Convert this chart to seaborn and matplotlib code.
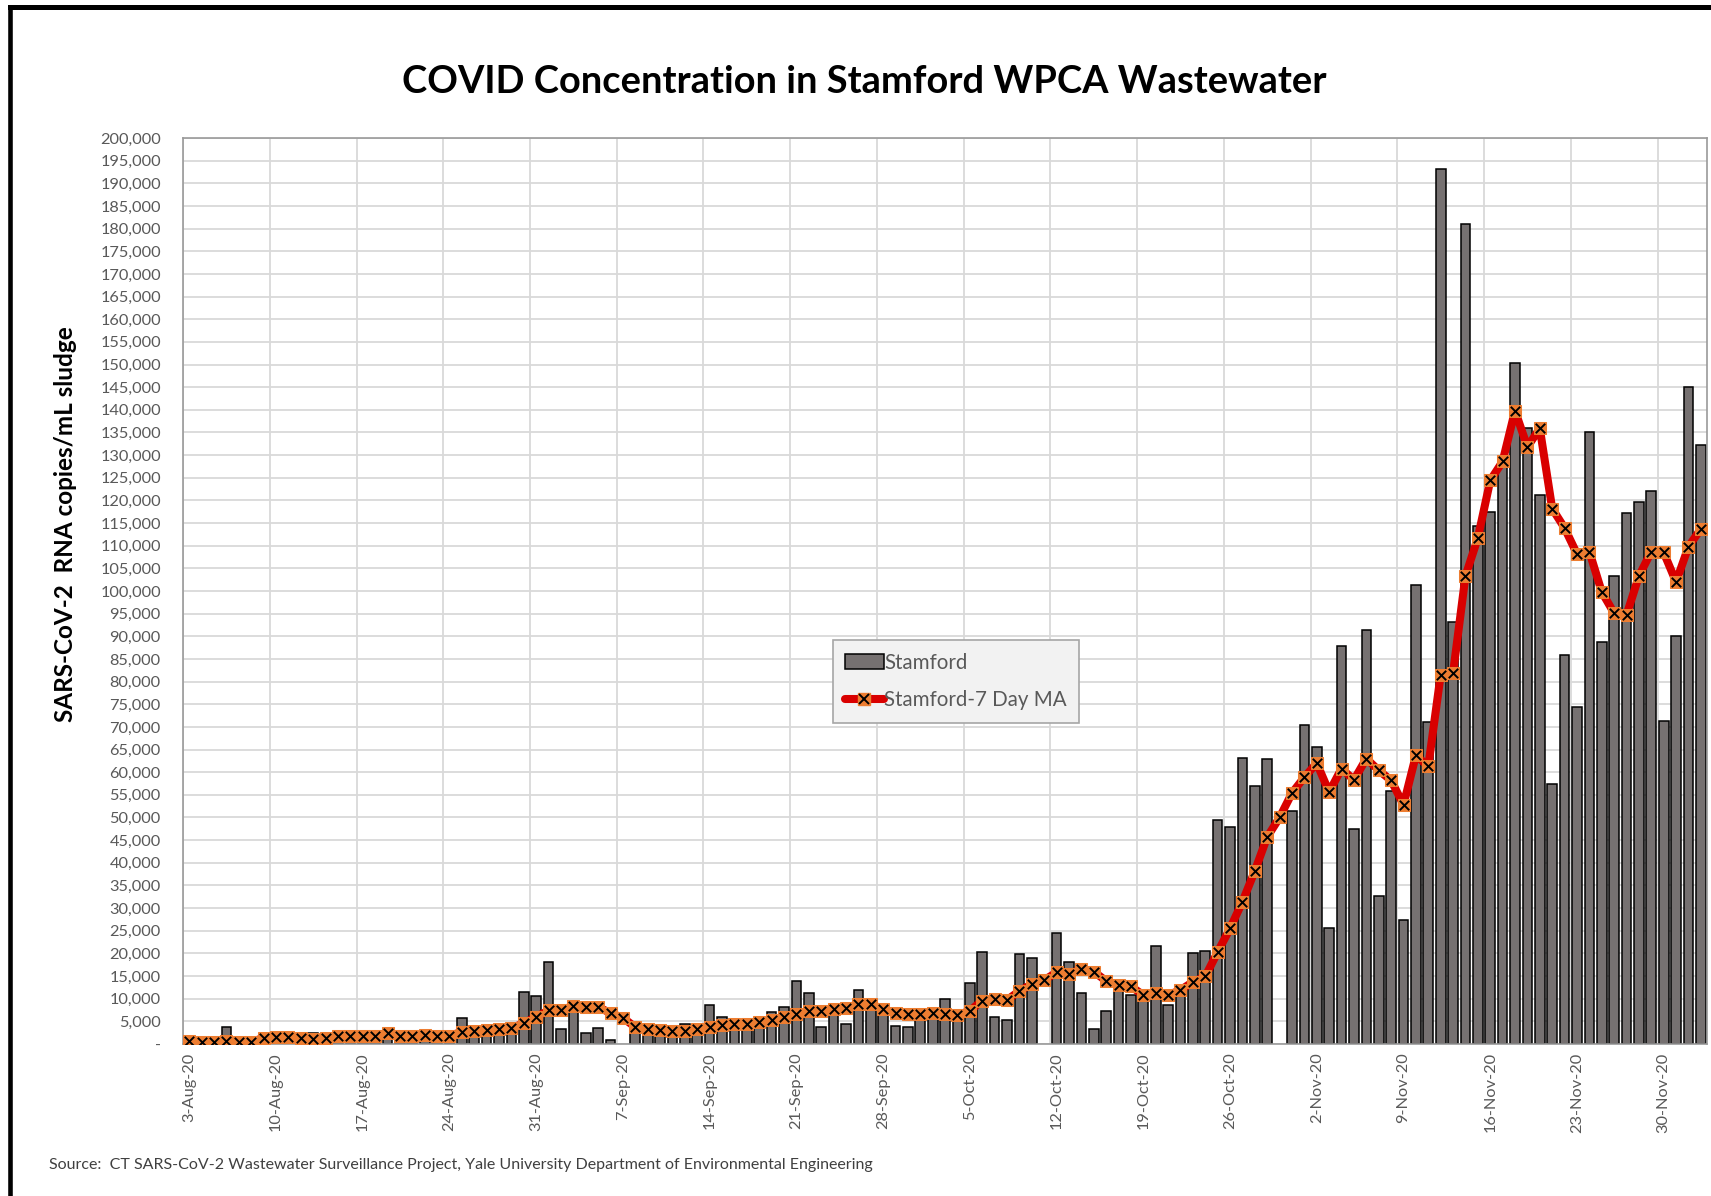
import numpy as np
import pandas as pd
import seaborn as sns
import matplotlib
matplotlib.use("Agg")
import matplotlib.pyplot as plt
from matplotlib.patches import Patch
from matplotlib.lines import Line2D
from matplotlib.ticker import FuncFormatter, MultipleLocator

# Daily values, 3-Aug-20 .. 3-Dec-20 (None = no sample that day)
stamford = [
    700, 600, 1600, 3800, 400, 400, 1500,
    1700, 1600, 1400, 2500, 1200, 2000, 1800,
    1900, 2200, 3000, 1800, 1700, 2700, 1600,
    1800, 5800, 2000, 2500, 2800, 3000, 11400,
    10700, 18000, 3300, 7500, 2400, 3500, 900,
    None, 4700, 4200, 2000, 1500, 4400, 2500,
    8500, 5900, 5300, 5200, 3500, 7000, 8100,
    13800, 11200, 3800, 6600, 4400, 11900, 9100,
    8500, 4000, 3800, 5300, 7400, 10000, 5300,
    13400, 20200, 6000, 5400, 19900, 18900, None,
    24400, 18000, 11300, 3300, 7300, 11900, 10800,
    9900, 21700, 8700, 10600, 20100, 20500, 49500,
    48000, 63100, 56900, 63000, None, 51400, 70400,
    65500, 25700, 87900, 47500, 91500, 32700, 55900,
    27300, 101300, 71000, 193200, 93200, 181000, 114300,
    117500, 128000, 150400, 135900, 121200, 57300, 85800,
    74400, 135000, 88800, 103300, 117300, 119600, 122100,
    71200, 90100, 145100, 132200,
]

stamford_ma = [
    600, 500, 500, 700, 400, 400, 1400,
    1500, 1500, 1400, 1100, 1300, 1700, 1800,
    1800, 1800, 2400, 1700, 1700, 1900, 1800,
    1800, 2700, 2900, 3100, 3200, 3500, 4600,
    6000, 7400, 7500, 8400, 8200, 8200, 6800,
    5800, 3700, 3200, 3100, 2900, 2900, 3300,
    3800, 4200, 4400, 4400, 4800, 5300, 6000,
    6600, 7300, 7300, 7700, 8000, 8800, 8800,
    7700, 6800, 6600, 6600, 6800, 6600, 6400,
    7300, 9600, 9900, 9700, 11700, 13200, 14100,
    15800, 15500, 16500, 16000, 13900, 13000, 12700,
    10800, 11200, 10800, 11900, 13700, 14900, 20300,
    25500, 31400, 38200, 45700, 50000, 55400, 58900,
    62000, 55600, 60800, 58300, 63000, 60400, 58200,
    52800, 63700, 61300, 81500, 81900, 103300, 111700,
    124400, 128600, 139800, 131800, 135900, 118200, 113900,
    108200, 108700, 99800, 95100, 94700, 103300, 108700,
    108500, 102000, 109800, 113700,
]

week_labels = [
    "3-Aug-20", "10-Aug-20", "17-Aug-20", "24-Aug-20", "31-Aug-20",
    "7-Sep-20", "14-Sep-20", "21-Sep-20", "28-Sep-20", "5-Oct-20",
    "12-Oct-20", "19-Oct-20", "26-Oct-20", "2-Nov-20", "9-Nov-20",
    "16-Nov-20", "23-Nov-20", "30-Nov-20",
]

BAR_COLOR = "#767171"
LINE_COLOR = "#D90000"
MARK_COLOR = "#ED7D31"
TEXT_GRAY = "#595959"

sns.set_theme(style="white")
plt.rcParams["font.family"] = ["Lato", "DejaVu Sans"]

days = np.arange(len(stamford))
df = pd.DataFrame({"day": days, "value": pd.array(stamford, dtype="Float64").astype(float)})
df_bars = df.dropna()

fig = plt.figure(figsize=(17.11, 11.96), dpi=100, facecolor="white")
ax = fig.add_axes([0.107, 0.1271, 0.8907, 0.7575])

sns.barplot(data=df_bars, x="day", y="value", native_scale=True, width=0.78,
            color=BAR_COLOR, saturation=1, edgecolor="black", linewidth=1.1,
            errorbar=None, ax=ax, zorder=2)

sns.lineplot(x=days, y=stamford_ma, color=LINE_COLOR, linewidth=5.8,
             marker="s", markersize=8, markerfacecolor=MARK_COLOR,
             markeredgecolor=MARK_COLOR, ax=ax, zorder=3)
ax.scatter(days, stamford_ma, marker="x", s=46, color="black",
           linewidths=1.4, zorder=4)

ax.set_xlim(-0.5, len(stamford) - 0.5)
ax.set_ylim(0, 200000)
ax.yaxis.set_major_locator(MultipleLocator(5000))
ax.yaxis.set_major_formatter(FuncFormatter(lambda v, p: "-" if v == 0 else f"{int(v):,}"))

ax.set_xticks(np.arange(0, len(stamford), 7))
ax.set_xticklabels(week_labels, rotation=90, ha="center", va="top")
ax.set_xticks(np.arange(-0.5, len(stamford), 7), minor=True)

ax.grid(False)
ax.grid(axis="y", which="major", color="#D9D9D9", linewidth=1.3, zorder=0)
ax.grid(axis="x", which="minor", color="#D9D9D9", linewidth=1.3, zorder=0)
ax.set_axisbelow(True)
ax.tick_params(axis="both", which="both", length=0)
ax.tick_params(axis="y", labelsize=11.8, labelcolor=TEXT_GRAY, pad=16)
ax.tick_params(axis="x", labelsize=11.8, labelcolor=TEXT_GRAY, pad=6)
ax.set_xlabel("")
ax.set_ylabel("")
for s in ax.spines.values():
    s.set_color("#999999")
    s.set_linewidth(1.2)

# legend
bar_handle = Patch(facecolor=BAR_COLOR, edgecolor="black", linewidth=1.1)
line_handle = (Line2D([], [], color=LINE_COLOR, linewidth=5.8, marker="s",
                      markersize=8, markerfacecolor=MARK_COLOR, markeredgecolor=MARK_COLOR),
               Line2D([], [], linestyle="none", marker="x", markersize=6.5,
                      color="black", markeredgewidth=1.4))
leg = ax.legend([bar_handle, line_handle], ["Stamford", "Stamford-7 Day MA"],
                loc="upper left", bbox_to_anchor=(0.4866, 0.4645),
                bbox_transform=fig.transFigure, borderaxespad=0,
                fontsize=14.8, frameon=True, fancybox=False, framealpha=1,
                facecolor="#F2F2F2", edgecolor="#A6A6A6", handlelength=1.9,
                handletextpad=0.0, labelspacing=0.85, borderpad=0.6)
for t in leg.get_texts():
    t.set_color(TEXT_GRAY)
leg.get_frame().set_linewidth(1.2)

fig.text(0.5054, 0.9314, "COVID Concentration in Stamford WPCA Wastewater",
         ha="center", va="center", fontsize=27.4, fontweight="bold", color="black")
fig.text(0.038, 0.5619, "SARS-CoV-2  RNA copies/mL sludge", rotation=90,
         ha="center", va="center", fontsize=17.5, fontweight="bold", color="black")
fig.text(0.0286, 0.0259,
         "Source:  CT SARS-CoV-2 Wastewater Surveillance Project, Yale University Department of Environmental Engineering",
         ha="left", va="center", fontsize=11.5, color="#404040")

# outer frame (top and left edges visible in the crop)
fig.add_artist(Line2D([10 / 1711, 10 / 1711], [0, 1 - 6.5 / 1196], transform=fig.transFigure,
                      color="black", linewidth=3.3, solid_capstyle="projecting"))
fig.add_artist(Line2D([10 / 1711, 1], [1 - 6.5 / 1196, 1 - 6.5 / 1196], transform=fig.transFigure,
                      color="black", linewidth=3.6, solid_capstyle="projecting"))

fig.savefig("out.png", dpi=100, facecolor="white")
plt.close(fig)
